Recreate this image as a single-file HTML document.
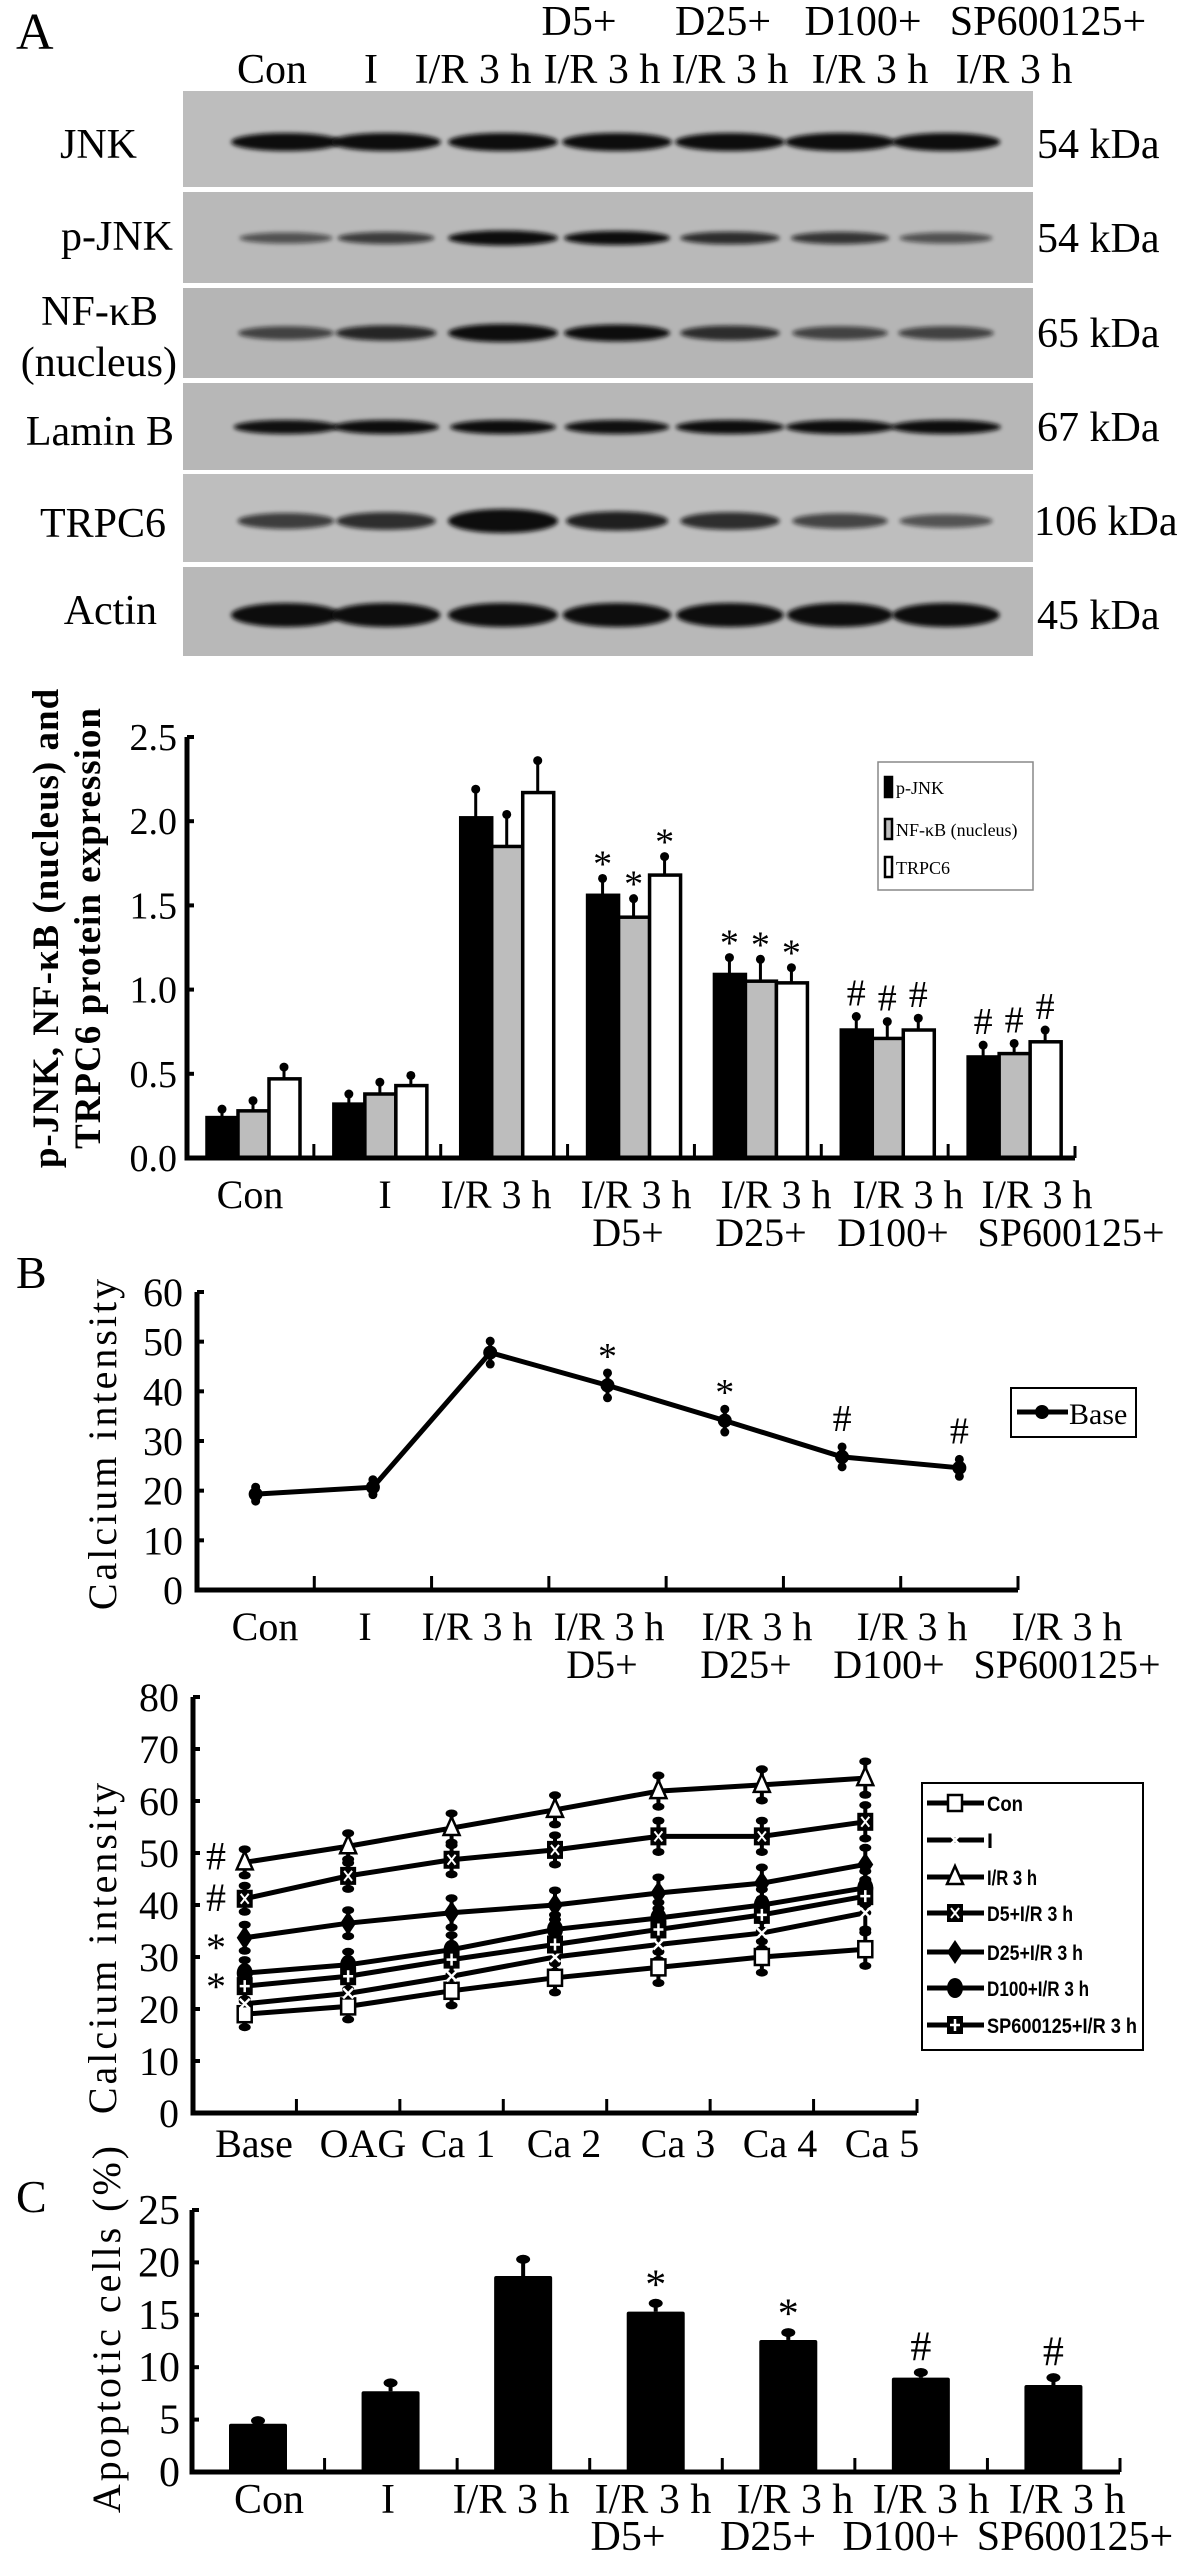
<!DOCTYPE html>
<html><head><meta charset="utf-8">
<style>
html,body{margin:0;padding:0;background:#fff;}
svg{display:block;font-family:"Liberation Serif",serif;}
.t{font-size:40px;fill:#000;}
.bl{font-size:42px;fill:#000;}
</style></head>
<body>
<svg id="fig" width="1181" height="2562" viewBox="0 0 1181 2562" xmlns="http://www.w3.org/2000/svg">
<defs>
<filter id="blur" x="-20%" y="-100%" width="140%" height="300%"><feGaussianBlur stdDeviation="2"/></filter>
</defs>
<rect x="0" y="0" width="1181" height="2562" fill="#fff"/>

<text x="16" y="49" font-size="52">A</text>
<g class="bl" text-anchor="middle">
<text x="579" y="35">D5+</text>
<text x="723" y="35">D25+</text>
<text x="863" y="35">D100+</text>
<text x="1048" y="35">SP600125+</text>
<text x="272" y="83">Con</text>
<text x="371" y="83">I</text>
<text x="473" y="83">I/R 3 h</text>
<text x="602" y="83">I/R 3 h</text>
<text x="730" y="83">I/R 3 h</text>
<text x="870" y="83">I/R 3 h</text>
<text x="1014" y="83">I/R 3 h</text>
</g>
<g class="bl" text-anchor="end">
<text x="137" y="158">JNK</text>
<text x="173" y="250">p-JNK</text>
<text x="158" y="325">NF-κB</text>
<text x="177" y="376">(nucleus)</text>
<text x="174" y="445">Lamin B</text>
<text x="166" y="537">TRPC6</text>
<text x="157" y="624">Actin</text>
</g>
<g class="bl" text-anchor="start">
<text x="1037" y="158">54 kDa</text>
<text x="1037" y="252">54 kDa</text>
<text x="1037" y="347">65 kDa</text>
<text x="1037" y="441">67 kDa</text>
<text x="1034" y="535">106 kDa</text>
<text x="1037" y="629">45 kDa</text>
</g>
<g id="blots"></g>

<g id="chartA"></g>
<text transform="translate(58,928) rotate(-90)" text-anchor="middle" font-size="37" font-weight="bold" letter-spacing="1">p-JNK,  NF-κB (nucleus) and</text>
<text transform="translate(100,928) rotate(-90)" text-anchor="middle" font-size="37" font-weight="bold" letter-spacing="1">TRPC6 protein expression</text>

<text x="16" y="1288" font-size="46">B</text>
<g id="chartB"></g>
<text transform="translate(116,1443) rotate(-90)" text-anchor="middle" font-size="40" letter-spacing="3">Calcium intensity</text>
<g id="chartB2"></g>
<text transform="translate(116,1947) rotate(-90)" text-anchor="middle" font-size="40" letter-spacing="3">Calcium intensity</text>

<text x="16" y="2212" font-size="46">C</text>
<g id="chartC"></g>
<text transform="translate(120,2328) rotate(-90)" text-anchor="middle" font-size="40" letter-spacing="3">Apoptotic cells (%)</text>
</svg>

<script>
const blotRows = ["JNK","p-JNK","NF-kB","Lamin B","TRPC6","Actin"];
const bandJNK = [1,1,1,1,1,1,0.95];
const bandPJNK = [0.35,0.5,1,0.85,0.6,0.55,0.35];
const bandNFKB = [0.45,0.65,1,0.85,0.6,0.45,0.45];
const bandLamin = [0.8,0.85,0.85,0.8,0.95,0.95,1];
const bandTRPC6 = [0.5,0.6,1,0.7,0.6,0.45,0.35];
const bandActin = [1,0.95,1,0.95,0.9,0.85,0.9];

const groupsA = ["Con","I","I/R 3 h","D5+ I/R 3 h","D25+ I/R 3 h","D100+ I/R 3 h","SP600125+ I/R 3 h"];
const pjnk = [0.24,0.32,2.02,1.56,1.09,0.76,0.60];
const pjnkErr = [0.05,0.06,0.17,0.10,0.10,0.08,0.07];
const nfkb = [0.28,0.38,1.85,1.43,1.05,0.71,0.62];
const nfkbErr = [0.06,0.07,0.19,0.11,0.13,0.10,0.06];
const trpc6 = [0.47,0.43,2.17,1.68,1.04,0.76,0.69];
const trpc6Err = [0.07,0.06,0.19,0.11,0.09,0.07,0.07];
const sigA = ["","","","*","*","#","#"];
const ticksA = ["0.0","0.5","1.0","1.5","2.0","2.5"];
const ticksAVal = [0,0.5,1,1.5,2,2.5];

const baseVals = [19.3,20.7,47.8,41.2,34.1,26.8,24.6];
const baseErr = [1.4,1.5,2.3,2.5,2.3,2.0,1.7];
const sigB = ["","","","*","*","#","#"];
const ticksB = [0,10,20,30,40,50,60];

const timeCats = ["Base","OAG","Ca 1","Ca 2","Ca 3","Ca 4","Ca 5"];
const seriesNames = ["Con","I","I/R 3 h","D5+I/R 3 h","D25+I/R 3 h","D100+I/R 3 h","SP600125+I/R 3 h"];
const sCon = [19,20.5,23.5,26,28,30,31.5];
const sI = [21,23,26.3,30,32.4,34.6,38.5];
const sIR = [48.2,51.3,54.8,58.3,61.9,63.1,64.4];
const sD5 = [41.2,45.6,48.7,50.6,53.2,53.2,56];
const sD25 = [33.7,36.5,38.5,40,42.3,44.2,47.8];
const sD100 = [26.9,28.5,31.4,35.3,37.5,40,43.3];
const sSP = [24.4,26.3,29.5,32.4,35.3,38.1,41.7];
const errB2 = [2.5,2.5,2.8,2.8,3,3,3.2];
const ticksB2 = [0,10,20,30,40,50,60,70,80];
const sigB2 = ["#","#","*","*"];
const sigB2Val = [49.5,41.5,33.5,26];

const apop = [4.6,7.7,18.7,15.3,12.6,9.0,8.3];
const apopErr = [0.3,0.8,1.6,0.8,0.7,0.5,0.7];
const sigC = ["","","","*","*","#","#"];
const ticksC = [0,5,10,15,20,25];

const NS = "http://www.w3.org/2000/svg";
function mk(tag, attrs, parent){
  const e = document.createElementNS(NS, tag);
  for (const k in attrs) e.setAttribute(k, attrs[k]);
  parent.appendChild(e);
  return e;
}
function txt(str, attrs, parent){
  const e = mk("text", attrs, parent);
  e.textContent = str;
  return e;
}

(function(){
  const g = document.getElementById("blots");
  const panels = [[91,187],[192,283],[288,378],[383,470],[474,562],[567,656]];
  const bandData = [bandJNK,bandPJNK,bandNFKB,bandLamin,bandTRPC6,bandActin];
  const bandY = [142,238,333,427,521,615];
  const bandH = [18,12,14,14,16,24];
  const bandHScale = [0,6,8,0,16,0];
  const laneX = [286,386,503,617,730,840,946];
  const shades = ["#bdbdbd","#b9b9b9","#b5b5b5","#b7b7b7","#bebebe","#b8b8b8"];
  for (let r=0;r<panels.length;r++){
    const p = mk("rect",{x:183,y:panels[r][0],width:850,height:panels[r][1]-panels[r][0],fill:shades[r]},g);
    
    
    for (let i=0;i<laneX.length;i++){
      const s = bandData[r][i];
      const h = bandH[r] + bandHScale[r]*(s-0.5);
      const w = 84 + 26*s;
      const b = mk("ellipse",{cx:laneX[i],cy:bandY[r],rx:w/2,ry:Math.max(3,h/2),fill:"#0a0a0a",opacity:Math.min(1,0.3+0.85*s),filter:"url(#blur)"},g);
      
      
    }
  }
})();

(function(){
  const g = document.getElementById("chartA");
  const x0=187, x1=1075, y0=1158, yTop=737, vmax=2.5;
  const band=(x1-x0)/groupsA.length;
  const yA = v => y0 - v*(y0-yTop)/vmax;
  for (let i=0;i<ticksAVal.length;i++){
    const t = mk("line",{x1:x0,x2:x0+7,y1:yA(ticksAVal[i]),y2:yA(ticksAVal[i]),stroke:"#000","stroke-width":4},g);
    
    
    const l = txt(ticksA[i],{x:x0-10,y:yA(ticksAVal[i])+13,"text-anchor":"end","font-size":38},g);
    
    
  }
  const series=[[pjnk,pjnkErr,"#000"],[nfkb,nfkbErr,"#bdbdbd"],[trpc6,trpc6Err,"#fff"]];
  for (let i=0;i<groupsA.length;i++){
    const gl = x0+band*i;
    if(i>0){
      const tk = mk("line",{x1:gl,x2:gl,y1:y0,y2:y0-14,stroke:"#000","stroke-width":3},g);
      
      
    }
    for (let s=0;s<3;s++){
      const v=series[s][0][i], e=series[s][1][i];
      const bx = gl+20+s*31;
      const eb = mk("line",{x1:bx+15,x2:bx+15,y1:yA(v),y2:yA(v+e),stroke:"#000","stroke-width":3},g);
      
      
      const cap = mk("circle",{cx:bx+15,cy:yA(v+e),r:4.5,fill:"#000"},g);
      
      
      const r = mk("rect",{x:bx,y:yA(v),width:31,height:y0-yA(v),fill:series[s][2],stroke:"#000","stroke-width":3.5},g);
      
      
      if(sigA[i]){
        const off = sigA[i]==="*"?-2:-11;
        const sg = txt(sigA[i],{x:bx+15,y:yA(v+e)+off,"text-anchor":"middle","font-size":38},g);
        
        
      }
    }
  }
  const ax = mk("path",{d:`M${x0} ${yTop} V${y0} H${x1}`,fill:"none",stroke:"#000","stroke-width":5},g);
  
  
  const end = mk("line",{x1:x1,x2:x1,y1:y0,y2:y0-12,stroke:"#000","stroke-width":3},g);
  
  
  const l1=["Con","I","I/R 3 h","I/R 3 h","I/R 3 h","I/R 3 h","I/R 3 h"], l1x=[250,385,496,636,776,908,1037];
  const l2=["D5+","D25+","D100+","SP600125+"], l2x=[628,761,893,1071];
  for(let i=0;i<l1.length;i++){const t=txt(l1[i],{x:l1x[i],y:1208,"text-anchor":"middle",class:"t"},g);
    
    }
  for(let i=0;i<l2.length;i++){const t=txt(l2[i],{x:l2x[i],y:1246,"text-anchor":"middle",class:"t"},g);
    
    }
  const lg = mk("rect",{x:878,y:762,width:155,height:128,fill:"#fff",stroke:"#888","stroke-width":1.5},g);
  
  
  const ln=["p-JNK","NF-κB (nucleus)","TRPC6"], lf=["#000","#bdbdbd","#fff"], ly=[787,829,867];
  for(let i=0;i<3;i++){
    const sw=mk("rect",{x:885,y:ly[i]-10,width:7,height:20,fill:lf[i],stroke:"#000","stroke-width":2.5},g);
    
    
    const t=txt(ln[i],{x:896,y:ly[i]+7,"font-size":18},g);
    
    
  }
})();

(function(){
  const g = document.getElementById("chartB");
  const x0=197, x1=1018, y0=1590, yTop=1292, vmax=60;
  const band=(x1-x0)/baseVals.length;
  const yB = v => y0 - v*(y0-yTop)/vmax;
  const xB = i => x0 + band*i + band/2;
  for(const tv of ticksB){
    const t=mk("line",{x1:x0,x2:x0+7,y1:yB(tv),y2:yB(tv),stroke:"#000","stroke-width":4},g);
    
    
    const l=txt(String(tv),{x:x0-14,y:yB(tv)+14,"text-anchor":"end",class:"t"},g);
    
    
  }
  for(let i=1;i<=baseVals.length;i++){
    const t=mk("line",{x1:x0+band*i,x2:x0+band*i,y1:y0,y2:y0-14,stroke:"#000","stroke-width":3},g);
    
    
  }
  const ax=mk("path",{d:`M${x0} ${yTop} V${y0} H${x1}`,fill:"none",stroke:"#000","stroke-width":5},g);
  
  
  let d="";
  for(let i=0;i<baseVals.length;i++) d+=(i?"L":"M")+xB(i)+" "+yB(baseVals[i]);
  const line=mk("path",{d:d,fill:"none",stroke:"#000","stroke-width":5},g);
  
  
  for(let i=0;i<baseVals.length;i++){
    const eb=mk("line",{x1:xB(i),x2:xB(i),y1:yB(baseVals[i]-baseErr[i]),y2:yB(baseVals[i]+baseErr[i]),stroke:"#000","stroke-width":4},g);
    
    
    for(const sgn of [-1,1]){
      const c=mk("circle",{cx:xB(i),cy:yB(baseVals[i]+sgn*baseErr[i]),r:4.5,fill:"#000"},g);
      
      
    }
    const m=mk("circle",{cx:xB(i),cy:yB(baseVals[i]),r:7,fill:"#000"},g);
    
    
    if(sigB[i]){
      const off = sigB[i]==="*"?-4:-16;
      const s=txt(sigB[i],{x:xB(i),y:yB(baseVals[i]+baseErr[i])+off,"text-anchor":"middle","font-size":38},g);
      
      
    }
  }
  const l1=["Con","I","I/R 3 h","I/R 3 h","I/R 3 h","I/R 3 h","I/R 3 h"], l1x=[265,365,477,609,757,912,1067];
  const l2=["D5+","D25+","D100+","SP600125+"], l2x=[602,746,889,1067];
  for(let i=0;i<l1.length;i++){const t=txt(l1[i],{x:l1x[i],y:1640,"text-anchor":"middle",class:"t"},g);
    
    }
  for(let i=0;i<l2.length;i++){const t=txt(l2[i],{x:l2x[i],y:1678,"text-anchor":"middle",class:"t"},g);
    
    }
  const lg=mk("rect",{x:1011,y:1388,width:125,height:49,fill:"#fff",stroke:"#000","stroke-width":2},g);
  
  
  const ll=mk("line",{x1:1017,x2:1068,y1:1412,y2:1412,stroke:"#000","stroke-width":5},g);
  
  
  const lm=mk("circle",{cx:1042,cy:1412,r:7,fill:"#000"},g);
  
  
  const lt=txt("Base",{x:1069,y:1424,"font-size":30},g);
  
  
})();

function marker(type,x,y,g){
  let e;
  if(type===0){ e=mk("rect",{x:x-7,y:y-8,width:14,height:16,fill:"#fff",stroke:"#000","stroke-width":2.5},g); }
  else if(type===1){ e=mk("path",{d:`M${x-5} ${y-5}L${x+5} ${y+5}M${x+5} ${y-5}L${x-5} ${y+5}`,stroke:"#fff","stroke-width":2.5},g); }
  else if(type===2){ e=mk("path",{d:`M${x} ${y-11}L${x+8} ${y+7}L${x-8} ${y+7}Z`,fill:"#fff",stroke:"#000","stroke-width":2.5},g); }
  else if(type===3){ e=mk("rect",{x:x-8,y:y-9,width:16,height:18,fill:"#000"},g);
    const c=mk("path",{d:`M${x-4} ${y-5}L${x+4} ${y+5}M${x+4} ${y-5}L${x-4} ${y+5}`,stroke:"#fff","stroke-width":2},g);
    
     }
  else if(type===4){ e=mk("path",{d:`M${x} ${y-12}L${x+8} ${y}L${x} ${y+12}L${x-8} ${y}Z`,fill:"#000"},g); }
  else if(type===5){ e=mk("ellipse",{cx:x,cy:y,rx:8,ry:10,fill:"#000"},g); }
  else { e=mk("rect",{x:x-8,y:y-9,width:16,height:18,fill:"#000"},g);
    const c=mk("path",{d:`M${x} ${y-6}V${y+6}M${x-5} ${y}H${x+5}`,stroke:"#fff","stroke-width":2.5},g);
    
     }
  
  
}
(function(){
  const g=document.getElementById("chartB2");
  const x0=193, x1=917, y0=2113, yTop=1697, vmax=80;
  const band=(x1-x0)/timeCats.length;
  const yY=v=>y0 - v*(y0-yTop)/vmax;
  const xX=i=>x0+band*i+band/2;
  for(const tv of ticksB2){
    const t=mk("line",{x1:x0,x2:x0+7,y1:yY(tv),y2:yY(tv),stroke:"#000","stroke-width":4},g);
    
    
    const l=txt(String(tv),{x:x0-14,y:yY(tv)+14,"text-anchor":"end",class:"t"},g);
    
    
  }
  for(let i=1;i<=timeCats.length;i++){
    const t=mk("line",{x1:x0+band*i,x2:x0+band*i,y1:y0,y2:y0-14,stroke:"#000","stroke-width":3},g);
    
    
  }
  const ax=mk("path",{d:`M${x0} ${yTop} V${y0} H${x1}`,fill:"none",stroke:"#000","stroke-width":5},g);
  
  
  const all=[sCon,sI,sIR,sD5,sD25,sD100,sSP];
  for(let s=0;s<all.length;s++){
    let d="";
    for(let i=0;i<timeCats.length;i++) d+=(i?"L":"M")+xX(i)+" "+yY(all[s][i]);
    const p=mk("path",{d:d,fill:"none",stroke:"#000","stroke-width":5},g);
    
    
    for(let i=0;i<timeCats.length;i++){
      const eb=mk("line",{x1:xX(i),x2:xX(i),y1:yY(all[s][i]-errB2[i]),y2:yY(all[s][i]+errB2[i]),stroke:"#000","stroke-width":4},g);
      
      
      for(const sgn of [-1,1]){
        const c=mk("ellipse",{cx:xX(i),cy:yY(all[s][i]+sgn*errB2[i]),rx:6,ry:4,fill:"#000"},g);
        
        
      }
    }
  }
  for(let s=0;s<all.length;s++) for(let i=0;i<timeCats.length;i++) marker(s,xX(i),yY(all[s][i]),g);
  for(let k=0;k<sigB2.length;k++){
    const t=txt(sigB2[k],{x:216,y:yY(sigB2Val[k])+(sigB2[k]==="*"?22:14),"text-anchor":"middle","font-size":40},g);
    
    
  }
  const lx=[254,363,458,564,678,780,882];
  for(let i=0;i<timeCats.length;i++){const t=txt(timeCats[i],{x:lx[i],y:2157,"text-anchor":"middle",class:"t"},g);
    
    }
  const lg=mk("rect",{x:922,y:1783,width:221,height:267,fill:"#fff",stroke:"#000","stroke-width":2},g);
  
  
  const ly=[1803,1840,1877,1913,1952,1988,2025];
  const lw=[36,6,50,86,96,102,150];
  for(let s=0;s<seriesNames.length;s++){
    const l=mk("line",{x1:927,x2:984,y1:ly[s],y2:ly[s],stroke:"#000","stroke-width":5},g);
    
    
    marker(s,955,ly[s],g);
    const t=txt(seriesNames[s],{x:987,y:ly[s]+8,"font-size":21,"font-family":"Liberation Sans Narrow, Liberation Sans, sans-serif","font-weight":"bold",textLength:lw[s],lengthAdjust:"spacingAndGlyphs"},g);
    
    
  }
})();

(function(){
  const g=document.getElementById("chartC");
  const x0=192, x1=1120, y0=2472, yTop=2210, vmax=25;
  const band=(x1-x0)/apop.length;
  const yC=v=>y0 - v*(y0-yTop)/vmax;
  for(const tv of ticksC){
    const t=mk("line",{x1:x0,x2:x0+7,y1:yC(tv),y2:yC(tv),stroke:"#000","stroke-width":4},g);
    
    
    const l=txt(String(tv),{x:x0-12,y:yC(tv)+14,"text-anchor":"end","font-size":42},g);
    
    
  }
  for(let i=1;i<=apop.length;i++){
    const t=mk("line",{x1:x0+band*i,x2:x0+band*i,y1:y0,y2:y0-14,stroke:"#000","stroke-width":3},g);
    
    
  }
  for(let i=0;i<apop.length;i++){
    const bx=x0+band*i+37, cx=bx+29;
    const eb=mk("line",{x1:cx,x2:cx,y1:yC(apop[i]),y2:yC(apop[i]+apopErr[i]),stroke:"#000","stroke-width":4},g);
    
    
    const cap=mk("ellipse",{cx:cx,cy:yC(apop[i]+apopErr[i]),rx:7,ry:4.5,fill:"#000"},g);
    
    
    const r=mk("rect",{x:bx,y:yC(apop[i]),width:58,height:y0-yC(apop[i]),fill:"#000",rx:2},g);
    
    
    if(sigC[i]){
      const t=txt(sigC[i],{x:cx,y:yC(apop[i]+apopErr[i])+(sigC[i]==="*"?-5:-12),"text-anchor":"middle","font-size":42},g);
      
      
    }
  }
  const ax=mk("path",{d:`M${x0} ${yTop} V${y0} H${x1}`,fill:"none",stroke:"#000","stroke-width":5},g);
  
  
  const l1=["Con","I","I/R 3 h","I/R 3 h","I/R 3 h","I/R 3 h","I/R 3 h"], l1x=[269,388,511,653,795,931,1067];
  const l2=["D5+","D25+","D100+","SP600125+"], l2x=[628,768,901,1075];
  for(let i=0;i<l1.length;i++){const t=txt(l1[i],{x:l1x[i],y:2513,"text-anchor":"middle","font-size":42},g);
    
    }
  for(let i=0;i<l2.length;i++){const t=txt(l2[i],{x:l2x[i],y:2550,"text-anchor":"middle","font-size":42},g);
    
    }
})();
</script>
</body></html>
